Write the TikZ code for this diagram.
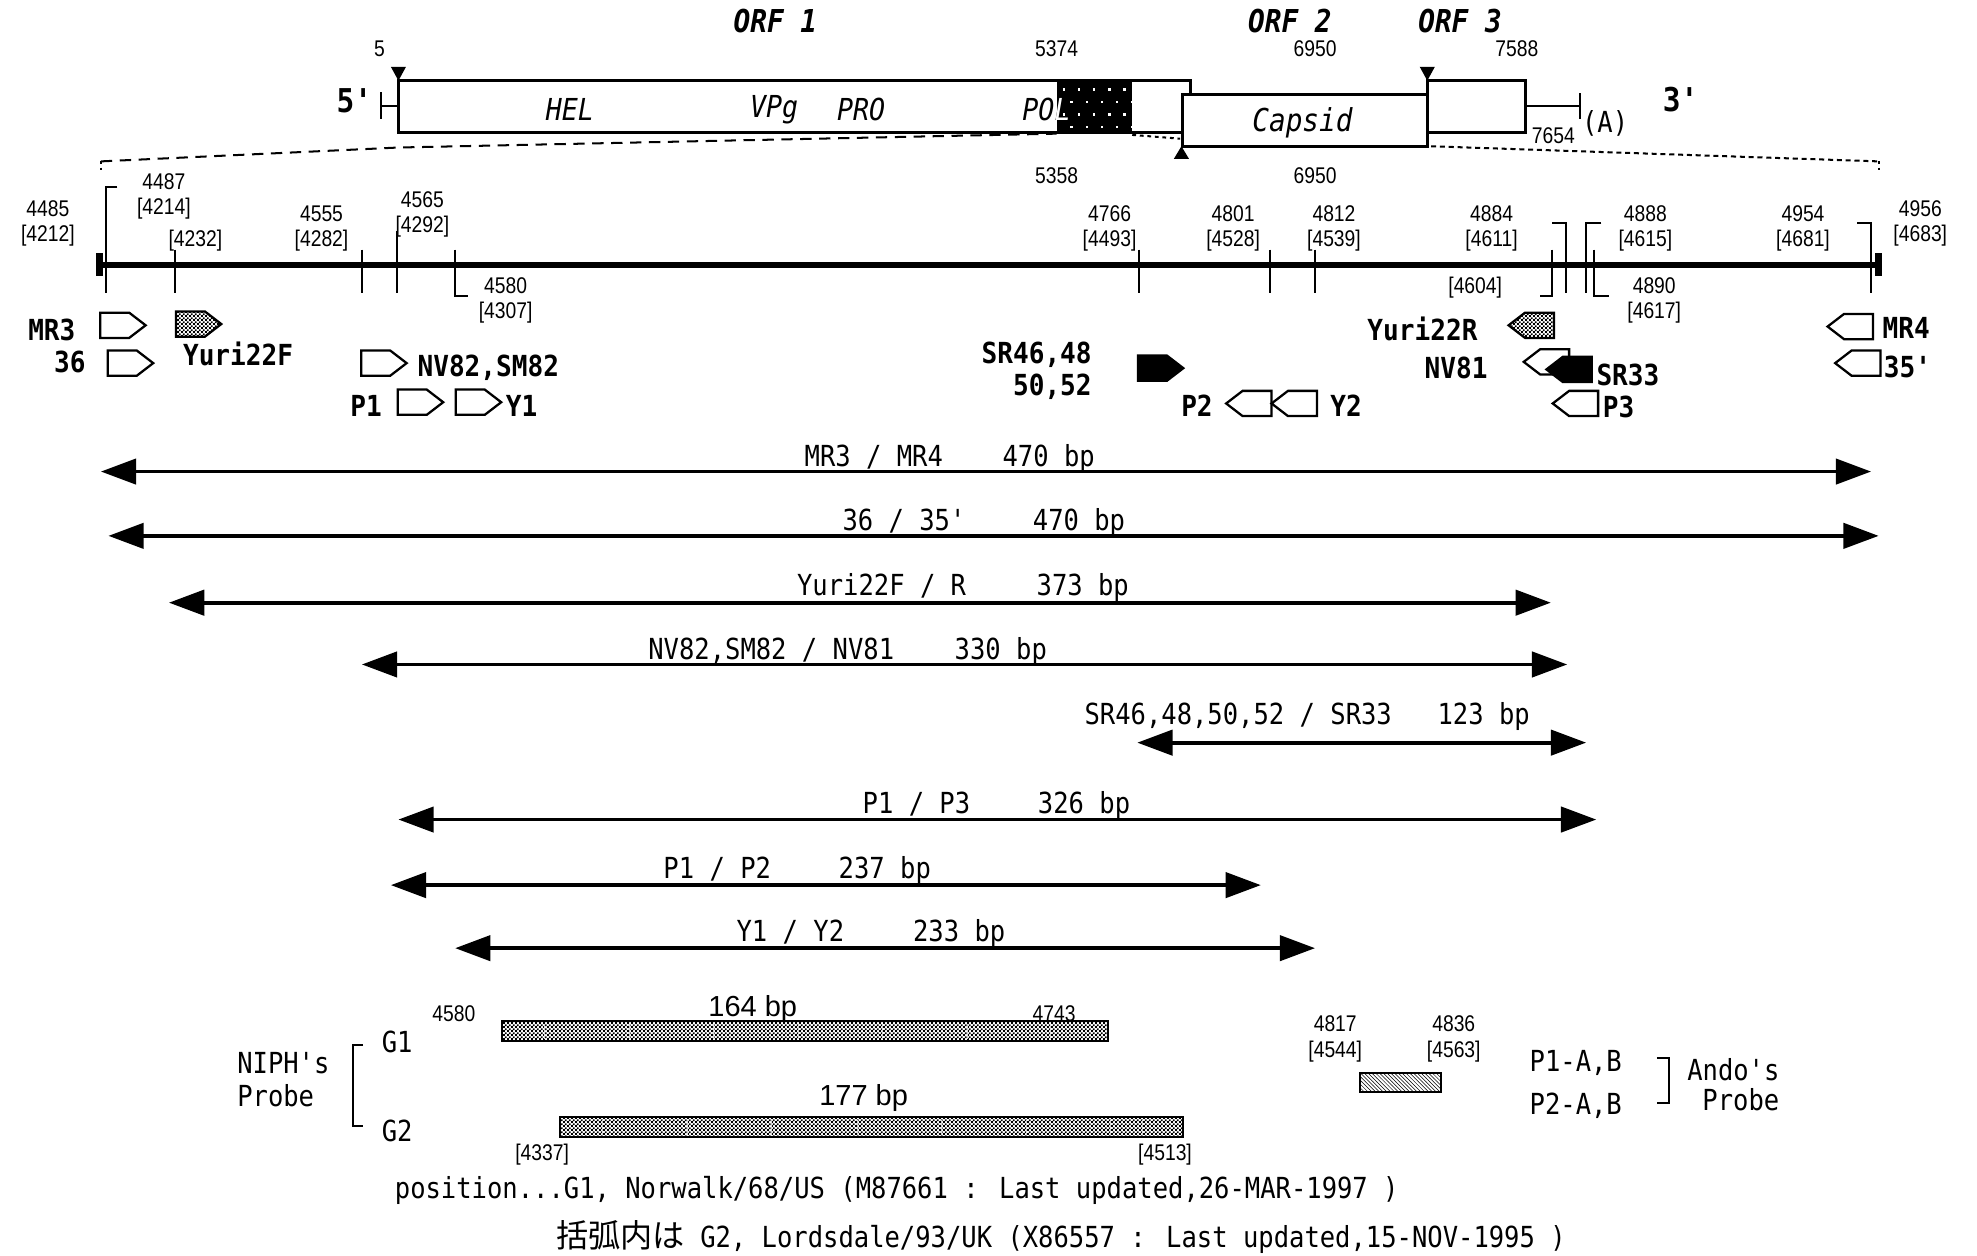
\documentclass[tikz,border=0pt]{standalone}
\usepackage{fontspec}
\setmainfont{Liberation Sans}
\newfontfamily\numf[FakeStretch=0.85]{Liberation Sans}
\newfontfamily\monof[FakeStretch=0.88]{DejaVu Sans Mono}
\newfontfamily\bmonof[FakeStretch=0.9]{DejaVu Sans Mono}
\newfontfamily\jpf{Noto Sans CJK JP}
\usetikzlibrary{arrows.meta,shapes.symbols,patterns}
\pgfdeclarepatternformonly{fchecker}{\pgfpointorigin}{\pgfpoint{3pt}{3pt}}{\pgfpoint{3pt}{3pt}}{%
  \pgfpathrectangle{\pgfpointorigin}{\pgfpoint{1.5pt}{1.5pt}}%
  \pgfpathrectangle{\pgfpoint{1.5pt}{1.5pt}}{\pgfpoint{1.5pt}{1.5pt}}%
  \pgfusepath{fill}}
\begin{document}
\begin{tikzpicture}[x=1pt,y=-1pt,
  num/.style={font=\numf\fontsize{18}{20}\selectfont, inner sep=0pt, align=center},
  bpf/.style={font=\fontsize{23}{26}\selectfont, inner sep=0pt},
  mono/.style={font=\monof\fontsize{23}{26}\selectfont, inner sep=0pt},
  bmono/.style={font=\bmonof\bfseries\fontsize{23}{26}\selectfont, inner sep=0pt},
  orf/.style={font=\monof\bfseries\itshape\fontsize{25}{28}\selectfont, inner sep=0pt},
  dom/.style={font=\monof\itshape\fontsize{24}{27}\selectfont, inner sep=0pt},
  gbox/.style={line width=2pt},
  tick/.style={line width=1.6pt},
  amp/.style={line width=3pt, {Triangle[length=28pt,width=20pt]}-{Triangle[length=28pt,width=20pt]}},
  pr/.style={shape=signal, draw, line width=1.8pt, minimum width=36pt, minimum height=20pt, inner sep=0pt, signal pointer angle=75, fill=white},
  prR/.style={pr, signal to=east},
  prL/.style={pr, signal to=west},
  stip/.style={pattern=fchecker},
  blk/.style={fill=black},
  seg/.style={line width=0.8pt, gray!35}
]
\fill[white] (0,0) rectangle (1568,996);
\useasboundingbox (0,0) rectangle (1568,996);

% ---------------- genome map ----------------
\node[orf] (orf1) at (615,17) {ORF 1};
\node[orf] (orf2) at (1023,17) {ORF 2};
\node[orf] (orf3) at (1158,17) {ORF 3};
\node[num] (g5) at (301,39) {5};
\node[num] (g5374) at (838,39) {5374};
\node[num] (g6950a) at (1043,39) {6950};
\node[num] (g7588) at (1203,39) {7588};
\node[num] (g5358) at (838,139) {5358};
\node[num] (g6950b) at (1043,139) {6950};

\draw[gbox] (316,64) rectangle (944,105);
\fill (838,64) rectangle (898,105);
\foreach \i in {0,...,4}{\foreach \j in {0,...,3}{
  \pgfmathsetmacro{\xx}{843+12*\i+6*mod(\j,2)}
  \pgfmathsetmacro{\yy}{70+10*\j}
  \fill[white] (\xx,\yy) rectangle ++(1.8,1.8);}}
\draw[gbox,fill=white] (938,75) rectangle (1132,116);
\draw[gbox] (1132,64) rectangle (1210,105);
\draw[gbox] (1210,84) -- (1253,84);
\draw[gbox] (1253,74) -- (1253,94);
\draw[gbox] (302,73) -- (302,94);
\draw[gbox] (302,84) -- (316,84);
\fill (310,53) -- (322,53) -- (316,64) -- cycle;
\fill (1126,53) -- (1138,53) -- (1132,64) -- cycle;
\fill (931,126) -- (943,126) -- (937,116) -- cycle;

\node[dom] (hel) at (452,87) {HEL};
\node[dom] (vpg) at (614,87) {VPg};
\node[dom] (pro) at (683,87) {PRO};
\node[dom] (pol) at (830,87) {POL};
\begin{scope}
  \clip (838,64) rectangle (898,105);
  \node[dom,white] (polw) at (830,87) {POL};
\end{scope}
\node[dom,font=\monof\itshape\fontsize{25}{28}\selectfont] (caps) at (1033,97) {Capsid};
\node[bmono,font=\bmonof\bfseries\fontsize{26}{28}\selectfont] (five) at (281,80) {5'};
\node[bmono,font=\bmonof\bfseries\fontsize{26}{28}\selectfont] (three) at (1333,79) {3'};
\node[num] (g7654) at (1232,108) {7654};
\node[mono] (polyA) at (1273,98) {(A)};

\draw[line width=1.6pt, dash pattern=on 9pt off 6pt] (80,128) -- (316,117) -- (838,106);
\draw[line width=1.6pt, dash pattern=on 3pt off 3pt] (898,107) -- (936,110);
\draw[line width=1.6pt, dash pattern=on 4pt off 3pt] (1135,116) -- (1490,128);
\draw[line width=1.6pt, dash pattern=on 2pt off 3pt] (80,128) -- (80,136);
\draw[line width=1.6pt, dash pattern=on 2pt off 3pt] (1490,128) -- (1490,136);

% ---------------- expanded region ----------------
\draw[line width=5pt] (80,210) -- (1488,210);
\fill (76,201) rectangle (82,219);
\fill (1487,201) rectangle (1493,219);

\draw[tick] (93,148) -- (84,148) -- (84,232);
\draw[tick] (139,198) -- (139,232);
\draw[tick] (287,198) -- (287,232);
\draw[tick] (315,183) -- (315,232);
\draw[tick] (361,198) -- (361,235) -- (371,235);
\draw[tick] (903,198) -- (903,232);
\draw[tick] (1007,198) -- (1007,232);
\draw[tick] (1043,198) -- (1043,232);
\draw[tick] (1231,198) -- (1231,235) -- (1221,235);
\draw[tick] (1231,177) -- (1242,177) -- (1242,232);
\draw[tick] (1270,177) -- (1258,177) -- (1258,232);
\draw[tick] (1264,198) -- (1264,235) -- (1276,235);
\draw[tick] (1473,177) -- (1484,177) -- (1484,232);

\node[num] (l4485) at (38,177) {4485\\{}[4212]};
\node[num] (l4487) at (130,156) {4487\\{}[4214]};
\node[num] (l4232) at (155,191) {[4232]};
\node[num] (l4555) at (255,181) {4555\\{}[4282]};
\node[num] (l4565) at (335,170) {4565\\{}[4292]};
\node[num] (l4580) at (401,238) {4580\\{}[4307]};
\node[num] (l4766) at (880,181) {4766\\{}[4493]};
\node[num] (l4801) at (978,181) {4801\\{}[4528]};
\node[num] (l4812) at (1058,181) {4812\\{}[4539]};
\node[num] (l4884) at (1183,181) {4884\\{}[4611]};
\node[num] (l4604) at (1170,228) {[4604]};
\node[num] (l4888) at (1305,181) {4888\\{}[4615]};
\node[num] (l4890) at (1312,238) {4890\\{}[4617]};
\node[num] (l4954) at (1430,181) {4954\\{}[4681]};
\node[num] (l4956) at (1523,177) {4956\\{}[4683]};

% primers
\node[prR] (mr3) at (91,258) {};
\node[prR] (p36) at (97,288) {};
\node[prR,stip] (y22f) at (151,257) {};
\node[prR] (nv82) at (298,288) {};
\node[prR] (p1) at (327,319) {};
\node[prR] (y1) at (373,319) {};
\node[prR,blk] (sr46) at (914,292) {};
\node[prL] (p2) at (997,320) {};
\node[prL] (y2) at (1033,320) {};
\node[prL,stip] (y22r) at (1221,258) {};
\node[prL] (nv81) at (1233,287) {};
\node[prL,blk] (sr33) at (1251,293) {};
\node[prL] (p3) at (1256,320) {};
\node[prL] (mr4) at (1474,259) {};
\node[prL] (p35) at (1480,288) {};

\node[bmono,anchor=east] (tmr3) at (60,262) {MR3};
\node[bmono,anchor=east] (t36) at (68,287) {36};
\node[bmono,anchor=west] (ty22f) at (145,281) {Yuri22F};
\node[bmono,anchor=west] (tnv82) at (331,292) {NV82,SM82};
\node[bmono,anchor=east] (tp1) at (303,322) {P1};
\node[bmono,anchor=west] (ty1) at (401,322) {Y1};
\node[bmono,anchor=east,align=right] (tsr46) at (866,294) {SR46,48\\50,52};
\node[bmono,anchor=east] (tp2) at (962,322) {P2};
\node[bmono,anchor=west] (ty2) at (1055,322) {Y2};
\node[bmono,anchor=east] (ty22r) at (1172,261) {Yuri22R};
\node[bmono,anchor=east] (tnv81) at (1180,292) {NV81};
\node[bmono,anchor=west] (tsr33) at (1266,297) {SR33};
\node[bmono,anchor=west] (tp3) at (1271,323) {P3};
\node[bmono,anchor=west] (tmr4) at (1493,260) {MR4};
\node[bmono,anchor=west] (t35) at (1494,291) {35'};

% ---------------- amplicons ----------------
\draw[amp] (80,374) coordinate (a1l) -- (1484,374) coordinate (a1r);
\node[mono,anchor=base west] (a1t) at (638,370) {MR3 / MR4};
\node[mono,anchor=base west] (a1b) at (795,370) {470 bp};
\draw[amp] (86,425) coordinate (a2l) -- (1490,425) coordinate (a2r);
\node[mono,anchor=base west] (a2t) at (668,421) {36 / 35'};
\node[mono,anchor=base west] (a2b) at (819,421) {470 bp};
\draw[amp] (134,478) coordinate (a3l) -- (1230,478) coordinate (a3r);
\node[mono,anchor=base west] (a3t) at (632,472) {Yuri22F / R};
\node[mono,anchor=base west] (a3b) at (822,472) {373 bp};
\draw[amp] (287,527) coordinate (a4l) -- (1243,527) coordinate (a4r);
\node[mono,anchor=base west] (a4t) at (514,523) {NV82,SM82 / NV81};
\node[mono,anchor=base west] (a4b) at (757,523) {330 bp};
\draw[amp] (902,589) coordinate (a5l) -- (1258,589) coordinate (a5r);
\node[mono,anchor=base west] (a5t) at (860,575) {SR46,48,50,52 / SR33};
\node[mono,anchor=base west] (a5b) at (1140,575) {123 bp};
\draw[amp] (316,650) coordinate (a6l) -- (1266,650) coordinate (a6r);
\node[mono,anchor=base west] (a6t) at (684,645) {P1 / P3};
\node[mono,anchor=base west] (a6b) at (823,645) {326 bp};
\draw[amp] (310,702) coordinate (a7l) -- (1000,702) coordinate (a7r);
\node[mono,anchor=base west] (a7t) at (526,697) {P1 / P2};
\node[mono,anchor=base west] (a7b) at (665,697) {237 bp};
\draw[amp] (361,752) coordinate (a8l) -- (1043,752) coordinate (a8r);
\node[mono,anchor=base west] (a8t) at (584,747) {Y1 / Y2};
\node[mono,anchor=base west] (a8b) at (724,747) {233 bp};

% ---------------- probes ----------------
\node[num] (b4580) at (360,804) {4580};
\node[bpf] (b164) at (597,800) {164 bp};
\node[num] (b4743) at (836,804) {4743};
\draw[line width=1.6pt, stip] (398,810) rectangle (879,826);
\foreach \x in {432,499,566,633,700,767,833} \draw[seg] (\x,812) -- (\x,824);
\node[bpf] (b177) at (685,871) {177 bp};
\draw[line width=1.6pt, stip] (444,886) rectangle (938,902);
\foreach \x in {478,545,612,680,747,814,881,906} \draw[seg] (\x,888) -- (\x,900);
\node[num] (b4337) at (430,916) {[4337]};
\node[num] (b4513) at (924,916) {[4513]};
\node[mono] (tg1) at (315,826) {G1};
\node[mono] (tg2) at (315,897) {G2};
\draw[tick] (288,829) -- (280,829) -- (280,893) -- (288,893);
\node[mono,anchor=west,align=left] (niph) at (188,856) {NIPH's\\Probe};

\node[num] (b4817) at (1059,824) {4817\\{}[4544]};
\node[num] (b4836) at (1153,824) {4836\\{}[4563]};
\draw[line width=1.6pt, pattern=north west lines] (1079,851) rectangle (1143,866);
\node[mono,anchor=west,align=left,font=\monof\fontsize{23}{34}\selectfont] (pab) at (1213,860) {P1-A,B\\P2-A,B};
\draw[tick] (1314,839) -- (1324,839) -- (1324,875) -- (1314,875);
\node[mono,anchor=west] (ando) at (1338,848) {Ando's};
\node[mono,anchor=west] (andop) at (1350,872) {Probe};

\node[mono,anchor=west] (foot1) at (313,944) {position...G1, Norwalk/68/US (M87661 : Last updated,26-MAR-1997 )};
\node[mono,anchor=west] (foot2) at (441,981) {{\jpf\fontsize{25.5}{28}\selectfont 括弧内は} G2, Lordsdale/93/UK (X86557 : Last updated,15-NOV-1995 )};
\end{tikzpicture}
\end{document}
